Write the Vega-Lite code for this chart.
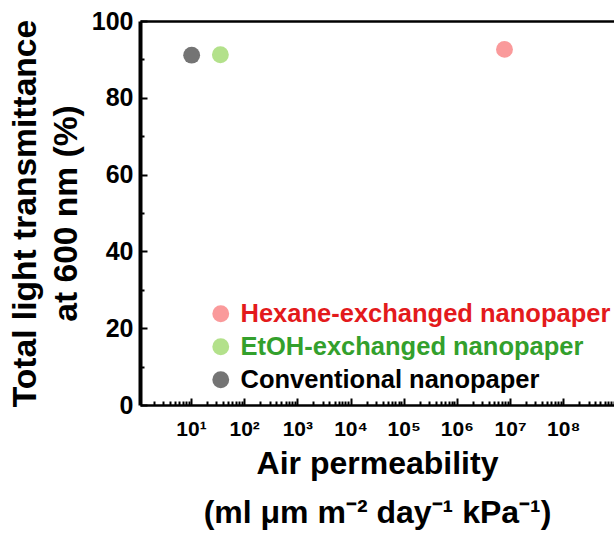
{
  "$schema": "https://vega.github.io/schema/vega-lite/v6.json",
  "width": 474,
  "height": 384,
  "autosize": "none",
  "padding": {"left": 140, "top": 21, "right": 0, "bottom": 128},
  "config": {
    "view": {"stroke": null},
    "font": "Liberation Sans",
    "axis": {"grid": false, "domainColor": "#000000", "domainWidth": 2.5, "domainOpacity": 1, "tickColor": "#000000", "labelColor": "#000000", "titleColor": "#000000", "labelFont": "Liberation Sans", "titleFont": "Liberation Sans", "labelFontWeight": "bold", "titleFontWeight": "bold"}
  },
  "data": {
    "values": [
      {"sample": "Hexane-exchanged nanopaper", "perm": 7850000, "T": 92.6},
      {"sample": "EtOH-exchanged nanopaper", "perm": 35.7, "T": 91.2},
      {"sample": "Conventional nanopaper", "perm": 10.3, "T": 91.1}
    ]
  },
  "layer": [
    {
      "mark": {"type": "point", "filled": true, "size": 284, "opacity": 1, "strokeWidth": 0},
      "encoding": {
        "x": {
          "field": "perm", "type": "quantitative",
          "scale": {"type": "log", "domain": [1.1, 900000000], "nice": false},
          "axis": {
            "orient": "bottom",
            "values": [10, 100, 1000, 10000, 100000, 1000000, 10000000, 100000000],
            "ticks": false,
            "domain": true,
            "labelFontSize": 21,
            "labelPadding": 13,
            "labelExpr": "'10' + ['¹','²','³','⁴','⁵','⁶','⁷','⁸'][round(log(datum.value)/LN10)-1]",
            "title": ["Air permeability", "(ml μm m⁻² day⁻¹ kPa⁻¹)"],
            "titleFontSize": 32,
            "titleLineHeight": 49,
            "titlePadding": 9
          }
        },
        "y": {
          "field": "T", "type": "quantitative",
          "scale": {"domain": [0, 100], "nice": false},
          "axis": {
            "orient": "left",
            "values": [0, 20, 40, 60, 80, 100],
            "ticks": false,
            "domain": true,
            "zindex": 2,
            "domainColor": "#000000",
            "domainWidth": 4,
            "labelFontSize": 25,
            "labelPadding": 7,
            "title": ["Total light transmittance", "at 600 nm (%)"],
            "titleFontSize": 33.6,
            "titleLineHeight": 41,
            "titlePadding": 8
          }
        },
        "color": {
          "field": "sample", "type": "nominal",
          "scale": {
            "domain": ["Hexane-exchanged nanopaper", "EtOH-exchanged nanopaper", "Conventional nanopaper"],
            "range": ["#fa9a9b", "#b3e18b", "#747474"]
          },
          "legend": {
            "orient": "none",
            "legendX": 68,
            "legendY": 280,
            "title": null,
            "symbolType": "circle",
            "symbolSize": 284,
            "symbolOpacity": 1,
            "symbolStrokeWidth": 0,
            "labelFontSize": 25.5,
            "labelFont": "Liberation Sans",
            "labelFontWeight": "bold",
            "labelLimit": 0,
            "labelOffset": 7,
            "rowPadding": 6,
            "encode": {
              "labels": {
                "update": {
                  "fill": {"signal": "datum.value === 'Hexane-exchanged nanopaper' ? '#e31a1c' : datum.value === 'EtOH-exchanged nanopaper' ? '#33a02c' : '#000000'"}
                }
              }
            }
          }
        }
      }
    },
    {
      "mark": {"type": "point", "opacity": 0},
      "encoding": {
        "x": {
          "field": "perm", "type": "quantitative",
          "axis": {
            "orient": "bottom",
            "title": null,
            "labels": false,
            "domain": false,
            "tickWidth": 2,
            "values": [2,3,4,5,6,7,8,9,10,20,30,40,50,60,70,80,90,100,200,300,400,500,600,700,800,900,1000,2000,3000,4000,5000,6000,7000,8000,9000,10000,20000,30000,40000,50000,60000,70000,80000,90000,100000,200000,300000,400000,500000,600000,700000,800000,900000,1000000,2000000,3000000,4000000,5000000,6000000,7000000,8000000,9000000,10000000,20000000,30000000,40000000,50000000,60000000,70000000,80000000,90000000,100000000,200000000,300000000,400000000,500000000,600000000,700000000,800000000,900000000],
            "tickSize": {"condition": {"test": "abs(log(datum.value)/LN10 - round(log(datum.value)/LN10)) < 0.000001", "value": -7}, "value": -4}
          }
        },
        "y": {
          "field": "T", "type": "quantitative",
          "axis": {
            "orient": "left",
            "title": null,
            "labels": false,
            "domain": false,
            "tickWidth": 2,
            "values": [0, 10, 20, 30, 40, 50, 60, 70, 80, 90, 100],
            "tickSize": {"condition": {"test": "datum.value % 20 === 0", "value": -7}, "value": -4}
          }
        }
      }
    },
    {
      "mark": {"type": "point", "opacity": 0},
      "encoding": {
        "x": {
          "field": "perm", "type": "quantitative",
          "axis": {"orient": "top", "title": null, "labels": false, "ticks": false, "domain": true}
        },
        "y": {"field": "T", "type": "quantitative", "axis": null}
      }
    }
  ],
  "resolve": {"axis": {"x": "independent", "y": "independent"}}
}
